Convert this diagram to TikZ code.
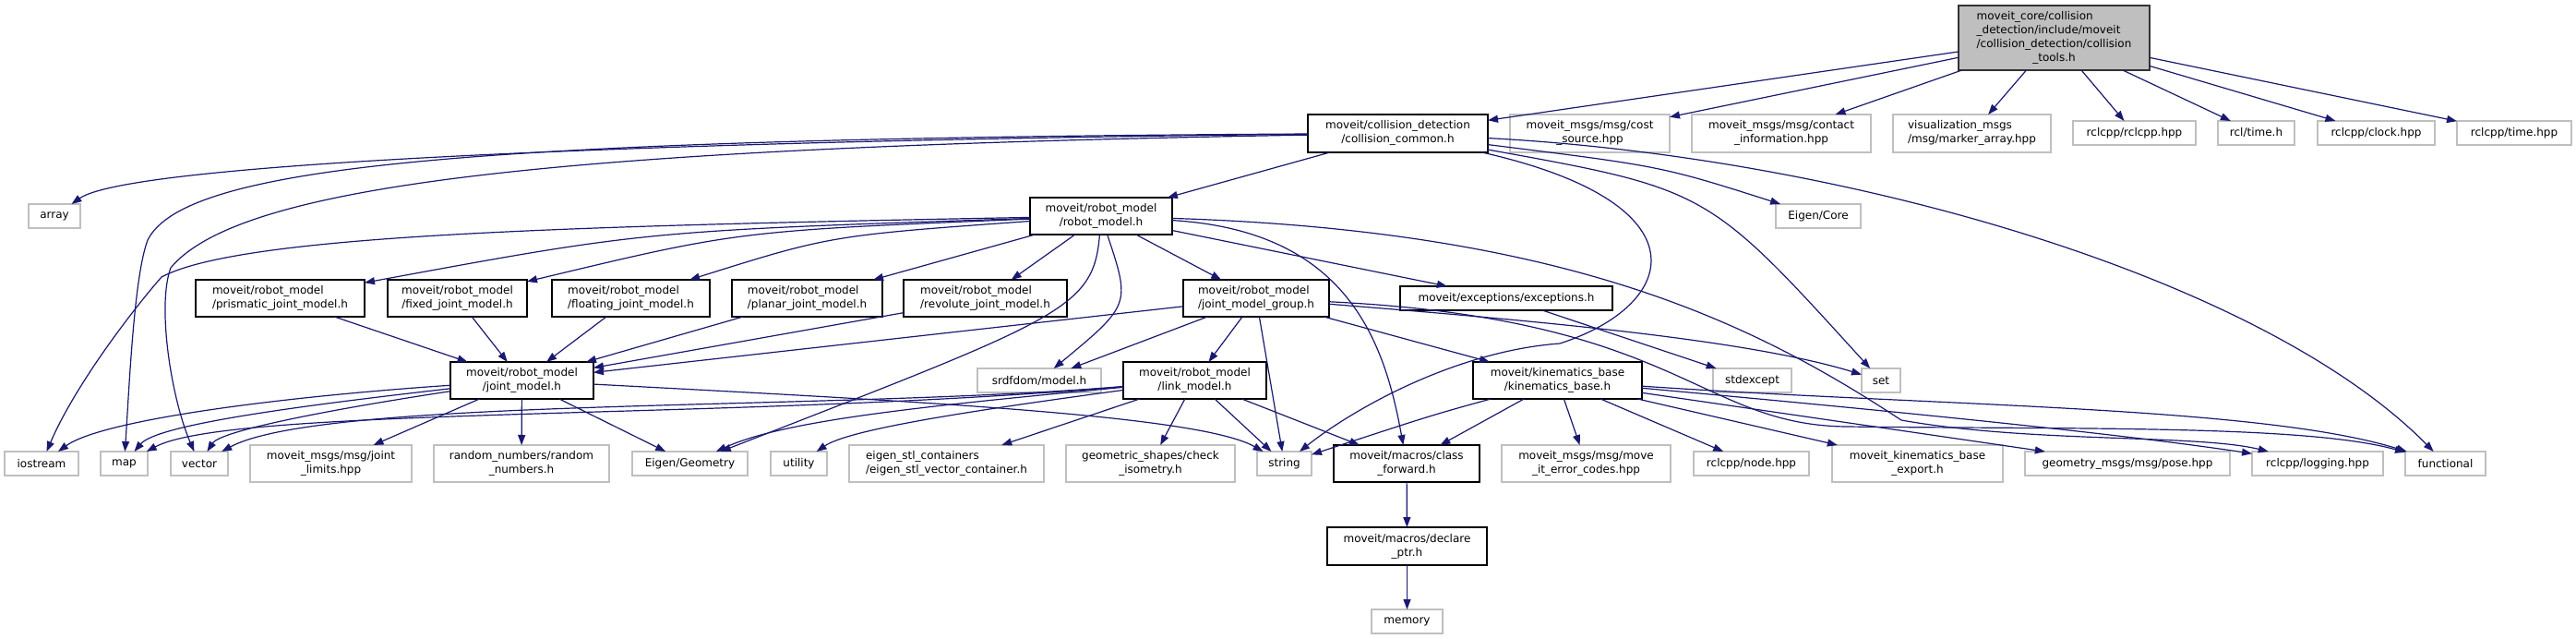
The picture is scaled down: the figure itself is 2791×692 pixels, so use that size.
\documentclass[tikz,border=0pt]{standalone}
\usepackage{fontspec}
\setmainfont{DejaVu Sans}
\usetikzlibrary{arrows.meta}
\definecolor{edgec}{HTML}{191970}
\definecolor{greyb}{HTML}{BFBFBF}
\newcommand\twol[2]{\begin{tabular}{@{}l@{}}#1\\\multicolumn{1}{@{}c@{}}{#2}\end{tabular}}
\newcommand\nb[7]{\node[#1, minimum width={#4pt-#2pt}, minimum height={#5pt-#3pt}] (#6) at ({(#2+#4)/2},{(#3+#5)/2}) {#7};}
\begin{document}
\begin{tikzpicture}[x=1pt,y=-1pt, font=\fontsize{12}{15}\selectfont,
  box/.style={draw=black, line width=1.1pt, fill=white, inner sep=0pt, outer sep=0pt, rectangle},
  ext/.style={draw=greyb, line width=1.1pt, fill=white, inner sep=0pt, outer sep=0pt, rectangle},
  rootb/.style={draw=black!80, line width=1.1pt, fill=greyb, inner sep=0pt, outer sep=0pt, rectangle},
  dep/.style={draw=edgec, line width=1.2pt, -{Triangle[length=11pt,width=8pt]}}]
\useasboundingbox (0,0) rectangle (2791,692);
% row 0
\nb{rootb}{2122}{6}{2329}{76}{root}{\begin{tabular}{@{}l@{}}moveit\_core/collision\\\_detection/include/moveit\\/collision\_detection/collision\\\multicolumn{1}{@{}c@{}}{\_tools.h}\end{tabular}}
% row 1
\nb{box}{1417}{124}{1612}{165}{cc}{\twol{moveit/collision\_detection}{/collision\_common.h}}
\nb{ext}{1636}{124}{1809}{165}{cost}{\twol{moveit\_msgs/msg/cost}{\_source.hpp}}
\nb{ext}{1833}{124}{2027}{165}{contact}{\twol{moveit\_msgs/msg/contact}{\_information.hpp}}
\nb{ext}{2051}{124}{2222}{165}{marker}{\twol{visualization\_msgs}{/msg/marker\_array.hpp}}
\nb{ext}{2246}{131}{2379}{157}{rclcpp}{rclcpp/rclcpp.hpp}
\nb{ext}{2403}{131}{2486}{157}{rcltime}{rcl/time.h}
\nb{ext}{2511}{131}{2638}{157}{clock}{rclcpp/clock.hpp}
\nb{ext}{2662}{131}{2786}{157}{rtime}{rclcpp/time.hpp}
% row 2
\nb{ext}{31}{221}{87}{247}{array}{array}
\nb{box}{1116}{214}{1270}{254}{rm}{\twol{moveit/robot\_model}{/robot\_model.h}}
\nb{ext}{1924}{221}{2016}{247}{ecore}{Eigen/Core}
% row 3
\nb{box}{212}{303}{395}{343}{prism}{\twol{moveit/robot\_model}{/prismatic\_joint\_model.h}}
\nb{box}{420}{303}{571}{343}{fixed}{\twol{moveit/robot\_model}{/fixed\_joint\_model.h}}
\nb{box}{598}{303}{769}{343}{floating}{\twol{moveit/robot\_model}{/floating\_joint\_model.h}}
\nb{box}{793}{303}{956}{343}{planar}{\twol{moveit/robot\_model}{/planar\_joint\_model.h}}
\nb{box}{979}{303}{1156}{343}{revolute}{\twol{moveit/robot\_model}{/revolute\_joint\_model.h}}
\nb{box}{1282}{303}{1440}{343}{jmg}{\twol{moveit/robot\_model}{/joint\_model\_group.h}}
\nb{box}{1517}{310}{1747}{336}{exc}{moveit/exceptions/exceptions.h}
% row 4
\nb{box}{488}{392}{643}{432}{jm}{\twol{moveit/robot\_model}{/joint\_model.h}}
\nb{ext}{1059}{399}{1193}{425}{srdf}{srdfdom/model.h}
\nb{box}{1217}{392}{1372}{432}{lm}{\twol{moveit/robot\_model}{/link\_model.h}}
\nb{box}{1596}{392}{1779}{432}{kb}{\twol{moveit/kinematics\_base}{/kinematics\_base.h}}
\nb{ext}{1856}{399}{1941}{425}{stdexc}{stdexcept}
\nb{ext}{2017}{399}{2059}{425}{setn}{set}
% row 5
\nb{ext}{5}{489}{85}{515}{iostream}{iostream}
\nb{ext}{109}{489}{160}{515}{mapn}{map}
\nb{ext}{185}{489}{247}{515}{vecn}{vector}
\nb{ext}{271}{482}{446}{522}{jl}{\twol{moveit\_msgs/msg/joint}{\_limits.hpp}}
\nb{ext}{470}{482}{660}{522}{rand}{\twol{random\_numbers/random}{\_numbers.h}}
\nb{ext}{685}{489}{810}{515}{egeom}{Eigen/Geometry}
\nb{ext}{835}{489}{896}{515}{utility}{utility}
\nb{ext}{920}{482}{1131}{522}{estl}{\twol{eigen\_stl\_containers}{/eigen\_stl\_vector\_container.h}}
\nb{ext}{1155}{482}{1338}{522}{geom}{\twol{geometric\_shapes/check}{\_isometry.h}}
\nb{ext}{1362}{489}{1421}{515}{strn}{string}
\nb{box}{1445}{482}{1603}{522}{cf}{\twol{moveit/macros/class}{\_forward.h}}
\nb{ext}{1627}{482}{1810}{522}{err}{\twol{moveit\_msgs/msg/move}{\_it\_error\_codes.hpp}}
\nb{ext}{1835}{489}{1960}{515}{rnode}{rclcpp/node.hpp}
\nb{ext}{1985}{482}{2170}{522}{kexp}{\twol{moveit\_kinematics\_base}{\_export.h}}
\nb{ext}{2194}{489}{2416}{515}{pose}{geometry\_msgs/msg/pose.hpp}
\nb{ext}{2440}{489}{2582}{515}{logging}{rclcpp/logging.hpp}
\nb{ext}{2606}{489}{2693}{515}{functional}{functional}
% rows 6,7
\nb{box}{1438}{571}{1611}{612}{dptr}{\twol{moveit/macros/declare}{\_ptr.h}}
\nb{ext}{1486}{660}{1563}{686}{memory}{memory}

% ---- edges ----
\foreach \t in {cc,cost,contact,marker,rclcpp,rcltime,clock,rtime} \draw[dep] (root) -- (\t);
% collision_common
\draw[dep] (cc) -- (rm);
\draw[dep] (cc) .. controls (900,150) and (150,170) .. (array);
\draw[dep] (cc) .. controls (500,150) and (200,180) .. (160,260) .. controls (145,300) and (140,420) .. (mapn);
\draw[dep] (cc) .. controls (600,160) and (260,200) .. (185,290) .. controls (170,330) and (185,430) .. (vecn);
\draw[dep] (cc) .. controls (1800,180) .. (ecore);
\draw[dep] (cc) .. controls (1850,220) and (1820,330) .. (1690,372) .. controls (1580,380) and (1470,440) .. (strn);
\draw[dep] (cc) .. controls (1850,205) .. (setn);
\draw[dep] (cc) .. controls (2000,170) and (2450,300) .. (functional);
% robot_model
\draw[dep] (rm) .. controls (700,250) .. (prism);
\draw[dep] (rm) .. controls (800,250) .. (fixed);
\draw[dep] (rm) .. controls (900,255) .. (floating);
\draw[dep] (rm) -- (planar);
\draw[dep] (rm) -- (revolute);
\draw[dep] (rm) -- (jmg);
\draw[dep] (rm) -- (exc);
\draw[dep] (rm) .. controls (600,245) and (260,255) .. (175,300) .. controls (140,340) and (80,420) .. (iostream);
\draw[dep] (rm) .. controls (1225,330) .. (srdf);
\draw[dep] (rm) .. controls (1185,335) and (1150,345) .. (egeom);
\draw[dep] (rm) .. controls (1460,250) and (1500,370) .. (cf);
\draw[dep] (rm) .. controls (1700,250) and (1900,350) .. (2060,455) .. controls (2200,480) and (2380,470) .. (logging);
% joint_model_group
\draw[dep] (jmg) -- (jm);
\draw[dep] (jmg) -- (lm);
\draw[dep] (jmg) -- (srdf);
\draw[dep] (jmg) -- (strn);
\draw[dep] (jmg) -- (kb);
\draw[dep] (jmg) .. controls (1700,350) and (1900,370) .. (setn);
\draw[dep] (jmg) .. controls (1820,345) and (1840,460) .. (2000,462) .. controls (2250,465) and (2500,460) .. (functional);
% joint models -> joint_model
\foreach \s in {prism,fixed,floating,planar,revolute} \draw[dep] (\s) -- (jm);
% joint_model
\draw[dep] (jm) .. controls (300,430) and (110,455) .. (iostream);
\draw[dep] (jm) .. controls (320,440) and (170,460) .. (mapn);
\draw[dep] (jm) .. controls (380,440) and (240,465) .. (vecn);
\draw[dep] (jm) -- (jl);
\draw[dep] (jm) -- (rand);
\draw[dep] (jm) -- (egeom);
\draw[dep] (jm) .. controls (1000,435) and (1300,450) .. (strn);
% link_model
\draw[dep] (lm) .. controls (900,445) and (350,430) .. (vecn);
\draw[dep] (lm) .. controls (800,455) and (250,440) .. (mapn);
\draw[dep] (lm) .. controls (1000,440) and (850,455) .. (egeom);
\draw[dep] (lm) .. controls (1050,445) and (920,465) .. (utility);
\draw[dep] (lm) -- (estl);
\draw[dep] (lm) -- (geom);
\draw[dep] (lm) -- (strn);
\draw[dep] (lm) -- (cf);
% kinematics_base
\draw[dep] (kb) .. controls (1550,450) .. (strn);
\draw[dep] (kb) -- (cf);
\draw[dep] (kb) -- (err);
\draw[dep] (kb) -- (rnode);
\draw[dep] (kb) -- (kexp);
\draw[dep] (kb) -- (pose);
\draw[dep] (kb) .. controls (2050,445) and (2300,470) .. (logging);
\draw[dep] (kb) .. controls (2100,440) and (2450,440) .. (functional);
% others
\draw[dep] (exc) -- (stdexc);
\draw[dep] (cf) -- (dptr);
\draw[dep] (dptr) -- (memory);
\end{tikzpicture}
\end{document}
